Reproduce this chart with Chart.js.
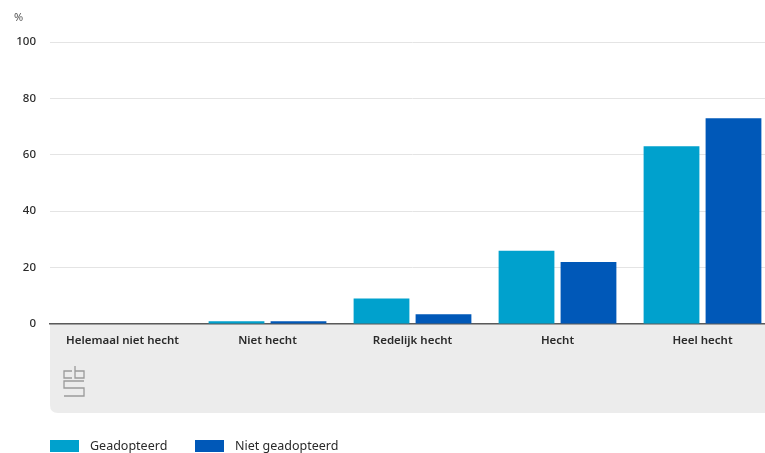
<!DOCTYPE html>
<html lang="nl">
<head>
    <meta charset="UTF-8">
    <title>Hechtheid band</title>
    <script src="https://cdn.jsdelivr.net/npm/chart.js"></script>
    <style>
        html, body { margin: 0; padding: 0; background: #fff; overflow: hidden; }
        body { width: 765px; height: 453px; position: relative; font-family: "Noto Sans", sans-serif; }
        #wrap { position: absolute; left: 0; top: 0; width: 775px; height: 453px; }
        #unit { position: absolute; left: 14px; top: 9px; font-size: 11px; color: #555; }
        .legend { position: absolute; top: 437px; font-size: 12.5px; color: #2a2a2a; display: flex; align-items: center; }
        .legend span.sw { display: inline-block; width: 29px; height: 12px; margin-right: 11px; }
    </style>
</head>
<body>
    <div id="wrap"><canvas id="chart" width="775" height="453"></canvas></div>
    <div id="unit">%</div>
    <div class="legend" style="left:50px"><span class="sw" style="background:#00a1cd"></span>Geadopteerd</div>
    <div class="legend" style="left:195px"><span class="sw" style="background:#0058b8"></span>Niet geadopteerd</div>

    <script>
        // categories and values (percent)
        const categories = ['Helemaal niet hecht', 'Niet hecht', 'Redelijk hecht', 'Hecht', 'Heel hecht'];
        const geadopteerd = [0, 1, 9, 26, 63];
        const nietGeadopteerd = [0, 1, 3.5, 22, 73];
        const yTicks = [0, 20, 40, 60, 80, 100];

        // grey panel under the x axis + cbs logo
        const panelPlugin = {
            id: 'panel',
            beforeDraw(chart) {
                const ctx = chart.ctx;
                const a = chart.chartArea;
                const x0 = a.left, y0 = a.bottom, x1 = chart.width, y1 = 413, r = 8;
                ctx.save();
                ctx.fillStyle = '#ececec';
                ctx.beginPath();
                ctx.moveTo(x0, y0);
                ctx.lineTo(x1, y0);
                ctx.lineTo(x1, y1);
                ctx.lineTo(x0 + r, y1);
                ctx.quadraticCurveTo(x0, y1, x0, y1 - r);
                ctx.closePath();
                ctx.fill();

                // rough cbs mark
                ctx.strokeStyle = '#9a9a9a';
                ctx.lineWidth = 1.3;
                ctx.beginPath();
                // c
                ctx.moveTo(72, 371); ctx.lineTo(64, 371); ctx.lineTo(64, 378); ctx.lineTo(72, 378);
                // b
                ctx.moveTo(75, 366); ctx.lineTo(75, 378); ctx.lineTo(84, 378); ctx.lineTo(84, 371); ctx.lineTo(75, 371);
                // s
                ctx.moveTo(84, 381); ctx.lineTo(64, 381); ctx.lineTo(64, 388); ctx.lineTo(84, 388);
                ctx.lineTo(84, 396); ctx.lineTo(64, 396);
                ctx.stroke();
                ctx.restore();
            }
        };

        const ctx = document.getElementById('chart').getContext('2d');
        new Chart(ctx, {
            type: 'bar',
            data: {
                labels: categories,
                datasets: [
                    { label: 'Geadopteerd', data: geadopteerd, backgroundColor: '#00a1cd' },
                    { label: 'Niet geadopteerd', data: nietGeadopteerd, backgroundColor: '#0058b8' }
                ]
            },
            options: {
                responsive: false,
                animation: false,
                layout: { padding: { top: 42, right: 0, bottom: 0, left: 0 } },
                datasets: { bar: { categoryPercentage: 0.855, barPercentage: 0.9 } },
                plugins: { legend: { display: false }, tooltip: { enabled: false } },
                scales: {
                    x: {
                        grid: { display: false, drawTicks: false },
                        border: { color: '#5a5a5a', width: 1.5 },
                        ticks: {
                            color: '#2a2a2a',
                            padding: 10,
                            maxRotation: 0,
                            font: { family: 'Noto Sans', size: 11.5, weight: '600' }
                        },
                        afterFit(scale) { scale.height = 129; }
                    },
                    y: {
                        min: 0,
                        max: 100,
                        afterBuildTicks(scale) { scale.ticks = yTicks.map(v => ({ value: v })); },
                        grid: { color: '#e4e4e4', drawTicks: false },
                        border: { display: false },
                        ticks: {
                            color: '#2a2a2a',
                            padding: 14,
                            font: { family: 'Noto Sans', size: 11.5, weight: '500' }
                        },
                        afterFit(scale) { scale.width = 50; }
                    }
                }
            },
            plugins: [panelPlugin]
        });
    </script>
</body>
</html>
